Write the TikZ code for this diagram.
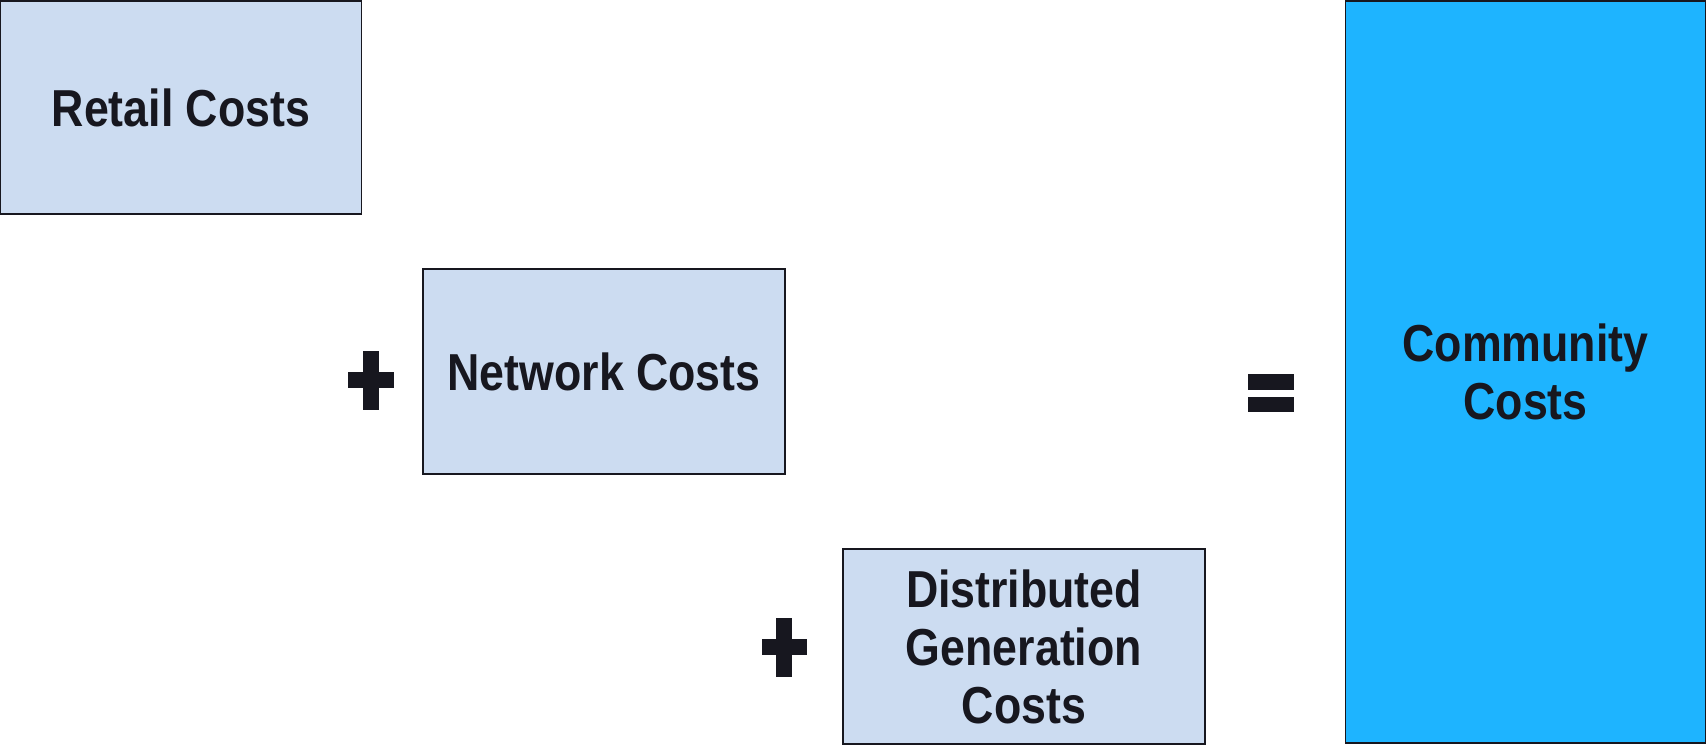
\documentclass[tikz,border=0pt]{standalone}
\usepackage{fontspec}
\setmainfont{Liberation Sans}[FakeStretch=0.86]
\definecolor{ink}{HTML}{17171F}
\definecolor{lightbox}{HTML}{CCDCF1}
\definecolor{commblue}{HTML}{1EB4FF}
\tikzset{
  costbox/.style={draw=ink, line width=0.75pt, fill=lightbox, text=ink, align=center,
    font=\bfseries\fontsize{26}{29}\selectfont, inner sep=0pt, outer sep=0pt},
  opsign/.style={fill=ink, draw=none}
}
\begin{document}
\begin{tikzpicture}[x=0.5pt,y=-0.5pt]
\useasboundingbox (0,0) rectangle (1706,746);
\node[costbox, minimum width=180.5pt, minimum height=106.5pt] (retail) at (181,107.5) {Retail Costs};
\node[costbox, minimum width=181pt, minimum height=102.5pt] (network) at (604,371.5) {Network Costs};
\node[costbox, minimum width=181pt, minimum height=97.5pt] (dist) at (1024,646.5) {Distributed\\Generation\\Costs};
\node[costbox, fill=commblue, minimum width=180pt, minimum height=371pt] (comm) at (1525.5,372) {Community\\Costs};
% plus 1
\fill[opsign] (363,351) rectangle (379,410);
\fill[opsign] (348,372) rectangle (394,388);
% plus 2
\fill[opsign] (776,618) rectangle (792,677);
\fill[opsign] (762,639) rectangle (807,655);
% equals
\fill[opsign] (1248,374) rectangle (1294,390);
\fill[opsign] (1248,397) rectangle (1294,412);
\end{tikzpicture}
\end{document}
